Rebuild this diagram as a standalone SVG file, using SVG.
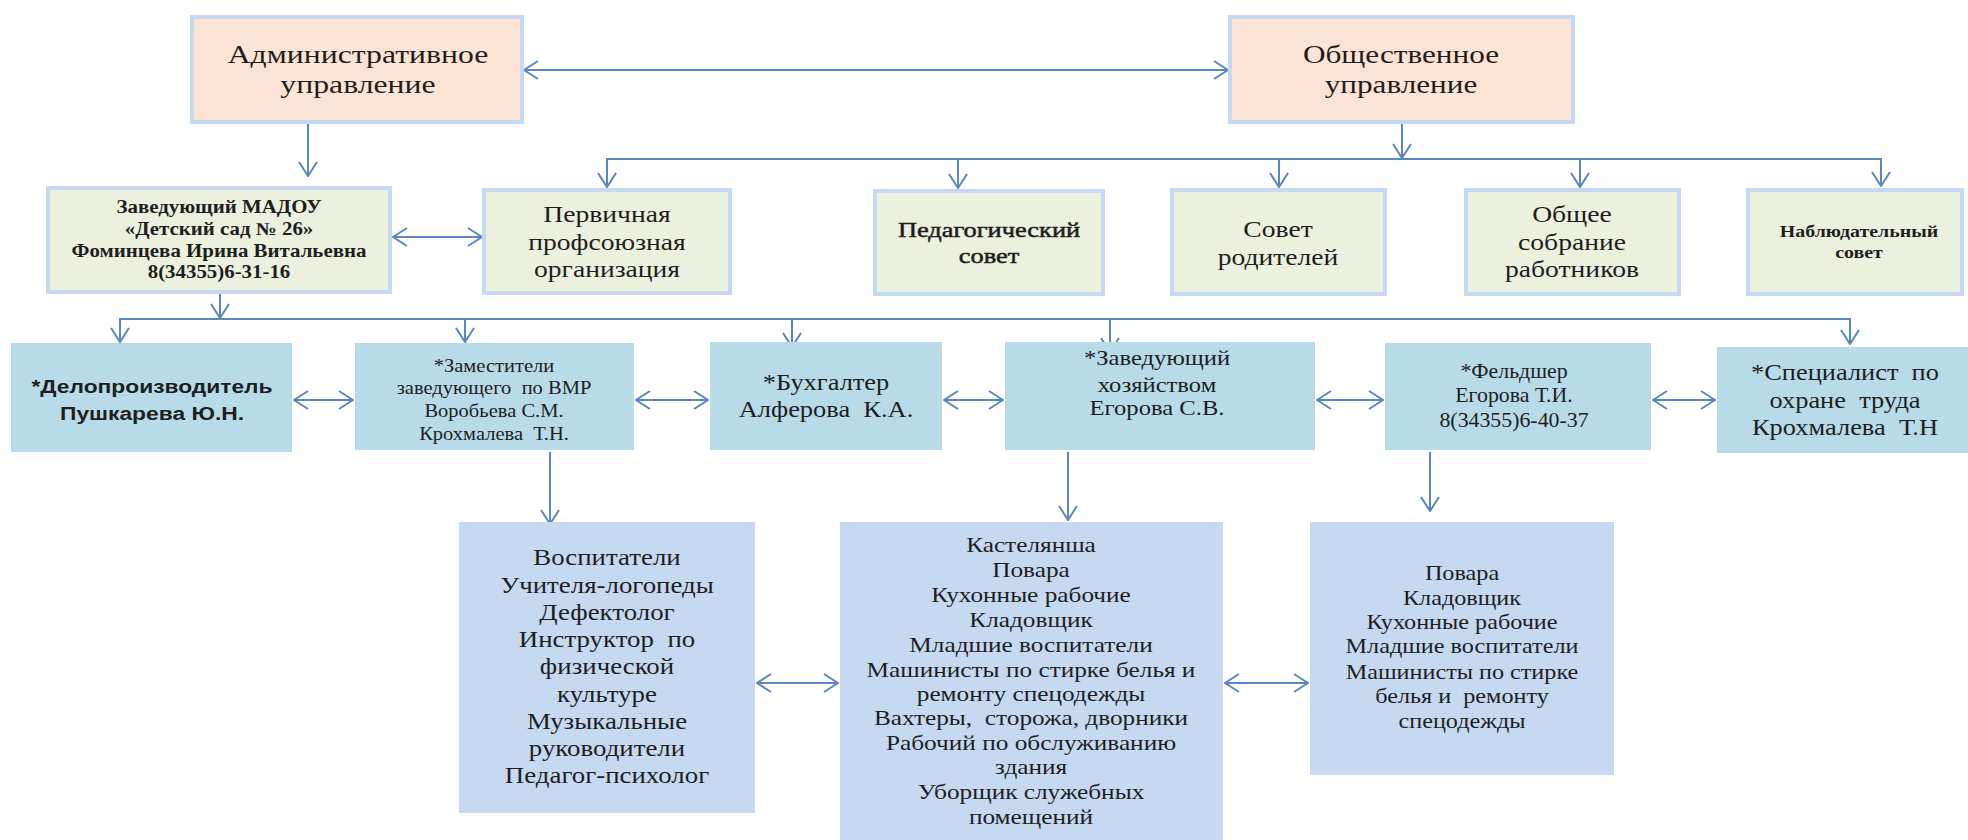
<svg xmlns="http://www.w3.org/2000/svg" width="1968" height="840" viewBox="0 0 1968 840">
<defs>
<marker id="ah" viewBox="0 0 16 20" refX="15" refY="10" markerWidth="16" markerHeight="20" markerUnits="userSpaceOnUse" orient="auto-start-reverse">
<path d="M1,1 L15,10 L1,19" fill="none" stroke="#5b86c2" stroke-width="2"/>
</marker>
</defs>
<style>
.top{fill:#fbe4d5;stroke:#c6d9f1;stroke-width:4}
.gov{fill:#ebf0df;stroke:#c6d9f1;stroke-width:4}
.mid{fill:#b7dce8}
.low{fill:#c6d9f1}
.t{font-family:"Liberation Serif","Times New Roman",serif;fill:#1e1e1e;text-anchor:middle}
.b{font-weight:bold}
.m{stroke:#1e1e1e;stroke-width:0.5}
.s{font-family:"Liberation Sans",Arial,sans-serif;font-weight:bold}
.c{fill:none;stroke:#5b86c2;stroke-width:2}
.a{marker-end:url(#ah)}
.d{marker-start:url(#ah);marker-end:url(#ah)}
</style>
<rect width="1968" height="840" fill="#ffffff"/>

<g id="connectors">
<line class="c d" x1="524" y1="70" x2="1228" y2="70"/>
<line class="c a" x1="308" y1="124" x2="308" y2="176"/>
<line class="c d" x1="393" y1="237" x2="482" y2="237"/>
<line class="c a" x1="1402" y1="124" x2="1402" y2="158"/>
<polyline class="c" points="607,180 607,159 1881,159 1881,180"/>
<line class="c a" x1="607" y1="159" x2="607" y2="187"/>
<line class="c a" x1="958" y1="159" x2="958" y2="188"/>
<line class="c a" x1="1279" y1="159" x2="1279" y2="187"/>
<line class="c a" x1="1580" y1="159" x2="1580" y2="187"/>
<line class="c a" x1="1881" y1="159" x2="1881" y2="186"/>
<line class="c a" x1="220" y1="294" x2="220" y2="318"/>
<polyline class="c" points="120,330 120,319 1850,319 1850,330"/>
<line class="c a" x1="120" y1="319" x2="120" y2="342"/>
<line class="c a" x1="465" y1="319" x2="465" y2="342"/>
<line class="c a" x1="792" y1="319" x2="792" y2="347"/>
<line class="c a" x1="1110" y1="319" x2="1110" y2="352"/>
<line class="c a" x1="1850" y1="319" x2="1850" y2="344"/>
<line class="c d" x1="294" y1="400" x2="353" y2="400"/>
<line class="c d" x1="636" y1="400" x2="708" y2="400"/>
<line class="c d" x1="944" y1="400" x2="1003" y2="400"/>
<line class="c d" x1="1317" y1="400" x2="1383" y2="400"/>
<line class="c d" x1="1653" y1="400" x2="1715" y2="400"/>
<line class="c a" x1="550" y1="452" x2="550" y2="524"/>
<line class="c a" x1="1068" y1="452" x2="1068" y2="520"/>
<line class="c a" x1="1430" y1="452" x2="1430" y2="511"/>
<line class="c d" x1="757" y1="683" x2="838" y2="683"/>
<line class="c d" x1="1225" y1="683" x2="1308" y2="683"/>
</g>

<g id="admin">
<rect class="top" x="192" y="17" width="330" height="105"/>
<text class="t" font-size="26" transform="translate(358 0) scale(1.22 1)"><tspan x="0" y="63">Административное</tspan><tspan x="0" y="93">управление</tspan></text>
</g>
<g id="public">
<rect class="top" x="1230" y="17" width="343" height="105"/>
<text class="t" font-size="26" transform="translate(1401 0) scale(1.2 1)"><tspan x="0" y="63">Общественное</tspan><tspan x="0" y="93">управление</tspan></text>
</g>

<g id="head">
<rect class="gov" x="48" y="188" width="342" height="104"/>
<text class="t b" font-size="18" transform="translate(219 0) scale(1.16 1)"><tspan x="0" y="213">Заведующий МАДОУ</tspan><tspan x="0" y="235">«Детский сад № 26»</tspan><tspan x="0" y="257">Фоминцева Ирина Витальевна</tspan><tspan x="0" y="278">8(34355)6-31-16</tspan></text>
</g>
<g id="union">
<rect class="gov" x="484" y="190" width="246" height="103"/>
<text class="t" font-size="24" transform="translate(607 0) scale(1.15 1)"><tspan x="0" y="222">Первичная</tspan><tspan x="0" y="250">профсоюзная</tspan><tspan x="0" y="277">организация</tspan></text>
</g>
<g id="pedsovet">
<rect class="gov" x="875" y="191" width="228" height="103"/>
<text class="t m" font-size="22" transform="translate(989 0) scale(1.2 1)"><tspan x="0" y="237">Педагогический</tspan><tspan x="0" y="263">совет</tspan></text>
</g>
<g id="parents">
<rect class="gov" x="1172" y="190" width="213" height="104"/>
<text class="t" font-size="24" transform="translate(1278 0) scale(1.15 1)"><tspan x="0" y="237">Совет</tspan><tspan x="0" y="265">родителей</tspan></text>
</g>
<g id="assembly">
<rect class="gov" x="1466" y="190" width="213" height="104"/>
<text class="t" font-size="24" transform="translate(1572 0) scale(1.15 1)"><tspan x="0" y="222">Общее</tspan><tspan x="0" y="250">собрание</tspan><tspan x="0" y="277">работников</tspan></text>
</g>
<g id="supervisory">
<rect class="gov" x="1748" y="190" width="214" height="104"/>
<text class="t b" font-size="17" transform="translate(1859 0) scale(1.17 1)"><tspan x="0" y="237">Наблюдательный</tspan><tspan x="0" y="258">совет</tspan></text>
</g>

<g id="clerk">
<rect class="mid" x="11" y="343" width="281" height="109"/>
<text class="t s" font-size="19" transform="translate(152 0) scale(1.2 1)"><tspan x="0" y="393">*Делопроизводитель</tspan><tspan x="0" y="420">Пушкарева Ю.Н.</tspan></text>
</g>
<g id="deputies">
<rect class="mid" x="355" y="343" width="279" height="107"/>
<text class="t" font-size="19" transform="translate(494 0) scale(1.08 1)"><tspan x="0" y="372">*Заместители</tspan><tspan x="0" y="394">заведующего&#160; по ВМР</tspan><tspan x="0" y="417">Воробьева С.М.</tspan><tspan x="0" y="440">Крохмалева&#160; Т.Н.</tspan></text>
</g>
<g id="accountant">
<rect class="mid" x="710" y="342" width="232" height="108"/>
<text class="t" font-size="23" transform="translate(826 0) scale(1.15 1)"><tspan x="0" y="390">*Бухгалтер</tspan><tspan x="0" y="417">Алферова&#160; К.А.</tspan></text>
</g>
<g id="housekeeper">
<rect class="mid" x="1005" y="342" width="310" height="108"/>
<text class="t" font-size="22" transform="translate(1157 0) scale(1.12 1)"><tspan x="0" y="365">*Заведующий</tspan><tspan x="0" y="392">хозяйством</tspan><tspan x="0" y="415">Егорова С.В.</tspan></text>
</g>
<g id="medic">
<rect class="mid" x="1385" y="343" width="266" height="107"/>
<text class="t" font-size="21" transform="translate(1514 0) scale(1.04 1)"><tspan x="0" y="378">*Фельдшер</tspan><tspan x="0" y="402">Егорова Т.И.</tspan><tspan x="0" y="427">8(34355)6-40-37</tspan></text>
</g>
<g id="safety">
<rect class="mid" x="1717" y="347" width="251" height="106"/>
<text class="t" font-size="24" transform="translate(1845 0) scale(1.1 1)"><tspan x="0" y="380">*Специалист&#160; по</tspan><tspan x="0" y="408">охране&#160; труда</tspan><tspan x="0" y="435">Крохмалева&#160; Т.Н</tspan></text>
</g>

<g id="teachers">
<rect class="low" x="459" y="522" width="296" height="291"/>
<text class="t" font-size="24" transform="translate(607 0) scale(1.12 1)"><tspan x="0" y="565">Воспитатели</tspan><tspan x="0" y="593">Учителя-логопеды</tspan><tspan x="0" y="620">Дефектолог</tspan><tspan x="0" y="647">Инструктор&#160; по</tspan><tspan x="0" y="674">физической</tspan><tspan x="0" y="702">культуре</tspan><tspan x="0" y="729">Музыкальные</tspan><tspan x="0" y="756">руководители</tspan><tspan x="0" y="783">Педагог-психолог</tspan></text>
</g>
<g id="service">
<rect class="low" x="840" y="522" width="383" height="330"/>
<text class="t" font-size="22" transform="translate(1031 0) scale(1.15 1)"><tspan x="0" y="552">Кастелянша</tspan><tspan x="0" y="577">Повара</tspan><tspan x="0" y="602">Кухонные рабочие</tspan><tspan x="0" y="627">Кладовщик</tspan><tspan x="0" y="652">Младшие воспитатели</tspan><tspan x="0" y="677">Машинисты по стирке белья и</tspan><tspan x="0" y="701">ремонту спецодежды</tspan><tspan x="0" y="725">Вахтеры,&#160; сторожа, дворники</tspan><tspan x="0" y="750">Рабочий по обслуживанию</tspan><tspan x="0" y="774">здания</tspan><tspan x="0" y="799">Уборщик служебных</tspan><tspan x="0" y="824">помещений</tspan></text>
</g>
<g id="kitchen">
<rect class="low" x="1310" y="522" width="304" height="253"/>
<text class="t" font-size="22" transform="translate(1462 0) scale(1.1 1)"><tspan x="0" y="580">Повара</tspan><tspan x="0" y="605">Кладовщик</tspan><tspan x="0" y="629">Кухонные рабочие</tspan><tspan x="0" y="653">Младшие воспитатели</tspan><tspan x="0" y="679">Машинисты по стирке</tspan><tspan x="0" y="703">белья и&#160; ремонту</tspan><tspan x="0" y="728">спецодежды</tspan></text>
</g>
</svg>
